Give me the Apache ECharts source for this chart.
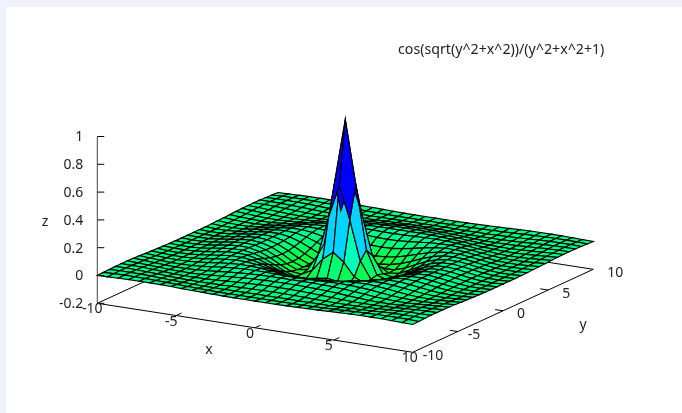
<!DOCTYPE html>
<html><head><meta charset="utf-8">
<style>html,body{margin:0;padding:0;background:#f0f0ff;width:682px;height:413px;overflow:hidden}
#paper{position:absolute;left:6px;top:7px;width:676px;height:406px;background:#fff}
#main{position:absolute;left:0;top:0;width:682px;height:413px}</style>
<script src="https://cdn.jsdelivr.net/npm/echarts@6/dist/echarts.min.js"></script>
</head><body><div id="paper"></div><div id="main"></div>
<script>
const titleText = 'cos(sqrt(y^2+x^2))/(y^2+x^2+1)';
const xTicks = [-10, -5, 0, 5, 10];
const yTicks = [-10, -5, 0, 5, 10];
const zTicks = [-0.2, 0, 0.2, 0.4, 0.6, 0.8, 1];
const gridStep = 2 / 3;
// z heights read over one quadrant of the surface (|x| rows, |y| columns, in grid steps)
const zQuadrant = [
[1.000,.544,.085,-.083,-.110,-.081,-.038,-.002,.020,.026,.020,.009,-.002,-.010,-.011,-.008],
[.544,.311,.025,-.094,-.108,-.077,-.035,.000,.021,.026,.020,.009,-.003,-.010,-.011,-.008],
[.085,.025,-.068,-.109,-.100,-.065,-.025,.006,.023,.026,.018,.007,-.004,-.010,-.011,-.008],
[-.083,-.094,-.109,-.106,-.081,-.045,-.011,.013,.025,.024,.016,.004,-.006,-.011,-.011,-.007],
[-.110,-.108,-.100,-.081,-.053,-.022,.004,.021,.026,.022,.012,.001,-.008,-.011,-.010,-.006],
[-.081,-.077,-.065,-.045,-.022,.000,.017,.025,.025,.017,.007,-.003,-.010,-.011,-.009,-.004],
[-.038,-.035,-.025,-.011,.004,.017,.025,.026,.020,.011,.001,-.007,-.011,-.011,-.007,-.002],
[-.002,.000,.006,.013,.021,.025,.026,.021,.014,.004,-.004,-.010,-.011,-.009,-.005,.000],
[.020,.021,.023,.025,.026,.025,.020,.014,.005,-.003,-.009,-.011,-.011,-.007,-.002,.003],
[.026,.026,.026,.024,.022,.017,.011,.004,-.003,-.008,-.011,-.011,-.008,-.004,.001,.005],
[.020,.020,.018,.016,.012,.007,.001,-.004,-.009,-.011,-.011,-.009,-.005,-.001,.003,.006],
[.009,.009,.007,.004,.001,-.003,-.007,-.010,-.011,-.011,-.009,-.005,-.001,.003,.005,.006],
[-.002,-.003,-.004,-.006,-.008,-.010,-.011,-.011,-.011,-.008,-.005,-.001,.002,.005,.006,.006],
[-.010,-.010,-.010,-.011,-.011,-.011,-.011,-.009,-.007,-.004,-.001,.003,.005,.006,.006,.004],
[-.011,-.011,-.011,-.011,-.010,-.009,-.007,-.005,-.002,.001,.003,.005,.006,.006,.005,.002],
[-.008,-.008,-.008,-.007,-.006,-.004,-.002,.000,.003,.005,.006,.006,.006,.004,.002,.000]
];
// palette: z -> colour
const paletteZ = [-0.12, -0.05, 0.0, 0.08, 0.2, 0.3, 0.6];
const paletteRGB = [[30,255,40],[0,255,90],[0,255,128],[0,255,190],[0,215,255],[0,208,255],[0,0,255]];

function zAt(i, j) { return zQuadrant[Math.abs(i)][Math.abs(j)]; }
function project(x, y, z) {
  const u = (x + 10) / 20, v = (y + 10) / 20;
  return [97.3 + u * 315.4 + v * 180.6, 303.3 + u * 49 - v * 83 - (z + 0.2) * 139];
}
function meanZ(i, j) { return (zAt(i,j) + zAt(i+1,j) + zAt(i+1,j+1) + zAt(i,j+1)) / 4; }
function depth(i, j) { return 0.0482 * (i + 0.5) * gridStep - 0.0834 * (j + 0.5) * gridStep + 0.5 * meanZ(i, j); }
function paletteColor(z) {
  let k = 0;
  while (k < paletteZ.length - 2 && z > paletteZ[k + 1]) k++;
  const t = Math.max(0, Math.min(1, (z - paletteZ[k]) / (paletteZ[k + 1] - paletteZ[k])));
  const c = paletteRGB[k].map((a, n) => Math.round(a + (paletteRGB[k + 1][n] - a) * t));
  return 'rgb(' + c.join(',') + ')';
}
const cells = [];
for (let j = 14; j >= -15; j--) for (let i = -15; i < 15; i++) cells.push([i, j]);
cells.sort((a, b) => depth(a[0], a[1]) - depth(b[0], b[1]));

const family = '"Noto Sans", Arial, sans-serif';
const font = '14px ' + family, ink = '#222';
function seg(api, a, b, color) {
  const p = api.coord(a), q = api.coord(b);
  return { type: 'line', shape: { x1: p[0], y1: p[1], x2: q[0], y2: q[1] }, style: { stroke: color || '#000', lineWidth: 1 } };
}
function label(api, pt, dx, dy, text, align) {
  const p = api.coord(pt);
  return { type: 'text', x: p[0] + dx, y: p[1] + dy, style: { text: String(text), font, fill: ink, textAlign: align || 'center', textVerticalAlign: 'middle' } };
}
const frameRender = (params, api) => {
  const fl = -0.2, ch = [];
  const c = [project(-10,-10,fl), project(10,-10,fl), project(10,10,fl), project(-10,10,fl)];
  for (let k = 0; k < 4; k++) ch.push(seg(api, c[k], c[(k + 1) % 4]));
  xTicks.slice(1, -1).forEach(t => ch.push(seg(api, project(t,-10,fl), project(t,-9.4,fl))));
  yTicks.slice(1, -1).forEach(t => ch.push(seg(api, project(10,t,fl), project(9.5,t,fl))));
  return { type: 'group', children: ch };
};
const axisRender = (params, api) => {
  const fl = -0.2, ch = [];
  const top = project(-10,-10,1);
  ch.push(seg(api, project(-10,-10,fl), top, '#444'));
  zTicks.forEach(t => {
    const p = project(-10,-10,t);
    ch.push(seg(api, p, [p[0] + 7, p[1]]));
    ch.push(label(api, p, -14, 1, t, 'right'));
  });
  xTicks.forEach(t => ch.push(label(api, project(t,-10,fl), t === 10 ? -3 : -5, 6, t)));
  yTicks.forEach(t => ch.push(label(api, project(10,t,fl), t < 0 ? 10 : 14, 3.5, t, 'left')));
  ch.push(label(api, [209, 350], 0, 0, 'x'));
  ch.push(label(api, [583, 325], 0, 0, 'y'));
  ch.push(label(api, [45, 222], 0, 0, 'z'));
  return { type: 'group', children: ch };
};
const surfaceRender = (params, api) => {
  const i = api.value(0), j = api.value(1);
  const corners = [[i,j],[i+1,j],[i+1,j+1],[i,j+1]];
  const pts = corners.map(([a,b]) => api.coord(project(a * gridStep, b * gridStep, zAt(a,b))));
  return { type: 'polygon', shape: { points: pts }, style: { fill: paletteColor(meanZ(i, j)), stroke: '#000', lineWidth: 1.15, lineJoin: 'miter' } };
};
const chart = echarts.init(document.getElementById('main'), null, { renderer: 'canvas' });
chart.setOption({
  animation: false,
  backgroundColor: 'transparent',
  title: { text: titleText, left: 398, top: 43, padding: 0, textStyle: { fontSize: 14.2, fontWeight: 'normal', fontFamily: family, color: ink } },
  grid: { left: 0, top: 0, right: 0, bottom: 0 },
  xAxis: { type: 'value', min: 0, max: 682, show: false },
  yAxis: { type: 'value', min: 0, max: 413, inverse: true, show: false },
  series: [
    { type: 'custom', coordinateSystem: 'cartesian2d', clip: false, silent: true, z: 1, data: [[0, 0]], renderItem: frameRender },
    { type: 'custom', coordinateSystem: 'cartesian2d', clip: false, silent: true, z: 2, progressive: 0, data: cells, renderItem: surfaceRender },
    { type: 'custom', coordinateSystem: 'cartesian2d', clip: false, silent: true, z: 3, data: [[0, 0]], renderItem: axisRender }
  ]
});
</script></body></html>
